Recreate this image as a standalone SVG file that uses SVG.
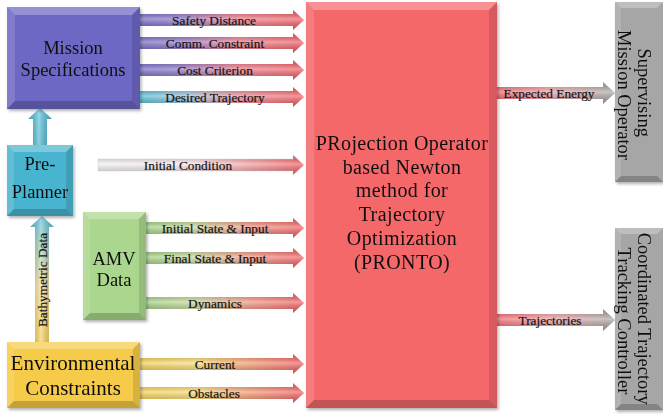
<svg xmlns="http://www.w3.org/2000/svg" width="663" height="417" viewBox="0 0 663 417" font-family="'Liberation Serif', 'DejaVu Serif', serif">
  <defs>
    <style>
      text { font-family: 'Liberation Serif', 'DejaVu Serif', serif; fill: #111; }
      .box { font-size: 18.5px; text-anchor: middle; }
      .env { font-size: 21px; text-anchor: middle; }
      .core { font-size: 20px; text-anchor: middle; letter-spacing: 0.4px; }
      .lbl { font-size: 13.3px; text-anchor: middle; dominant-baseline: central; stroke: #222; stroke-width: 0.2px; }
      .hl { fill: #fff; opacity: 0.28; }
      .hl2 { fill: #fff; opacity: 0.14; }
      .dk { fill: #000; opacity: 0.12; }
      .dk2 { fill: #000; opacity: 0.2; }
      .gloss { fill: url(#gloss); }
    </style>
    <filter id="shadow" x="-10%" y="-10%" width="130%" height="130%">
      <feDropShadow dx="1.5" dy="2" stdDeviation="1.5" flood-color="#000" flood-opacity="0.3"/>
    </filter>
    <!-- horizontal arrow fills: source colour fading into the optimizer red -->
    <linearGradient id="gPurple" x1="0" y1="0" x2="1" y2="0">
      <stop offset="0" stop-color="#6f66c6"/>
      <stop offset="0.25" stop-color="#8e74c6"/>
      <stop offset="0.6" stop-color="#f07a8a"/>
      <stop offset="1" stop-color="#f45a60"/>
    </linearGradient>
    <linearGradient id="gCyan" x1="0" y1="0" x2="1" y2="0">
      <stop offset="0" stop-color="#4bbcd6"/>
      <stop offset="0.3" stop-color="#9fc0d8"/>
      <stop offset="0.6" stop-color="#f08a96"/>
      <stop offset="1" stop-color="#f45a60"/>
    </linearGradient>
    <linearGradient id="gWhite" x1="0" y1="0" x2="1" y2="0">
      <stop offset="0" stop-color="#f4f4f4"/>
      <stop offset="0.45" stop-color="#f8e4e6"/>
      <stop offset="1" stop-color="#f45a60"/>
    </linearGradient>
    <linearGradient id="gGreen" x1="0" y1="0" x2="1" y2="0">
      <stop offset="0" stop-color="#9ccf7c"/>
      <stop offset="0.3" stop-color="#c9d89a"/>
      <stop offset="0.65" stop-color="#f3947e"/>
      <stop offset="1" stop-color="#f45a60"/>
    </linearGradient>
    <linearGradient id="gYellow" x1="0" y1="0" x2="1" y2="0">
      <stop offset="0" stop-color="#f6cf4c"/>
      <stop offset="0.35" stop-color="#f8dc74"/>
      <stop offset="0.65" stop-color="#f59a6e"/>
      <stop offset="1" stop-color="#f45a60"/>
    </linearGradient>
    <linearGradient id="gOut" x1="0" y1="0" x2="1" y2="0">
      <stop offset="0" stop-color="#f25f66"/>
      <stop offset="0.45" stop-color="#ee9ea2"/>
      <stop offset="1" stop-color="#a8a8a8"/>
    </linearGradient>
    <linearGradient id="gUpCyan" x1="0" y1="1" x2="0" y2="0">
      <stop offset="0" stop-color="#4bb6d0"/>
      <stop offset="1" stop-color="#5ac6de"/>
    </linearGradient>
    <linearGradient id="gUpBathy" x1="0" y1="1" x2="0" y2="0">
      <stop offset="0" stop-color="#f6cf4c"/>
      <stop offset="0.45" stop-color="#f3e3a0"/>
      <stop offset="1" stop-color="#5cc3dc"/>
    </linearGradient>
    <!-- tubular shading laid over every arrow -->
    <linearGradient id="gloss" x1="0" y1="0" x2="0" y2="1">
      <stop offset="0" stop-color="#000" stop-opacity="0.12"/>
      <stop offset="0.45" stop-color="#fff" stop-opacity="0.35"/>
      <stop offset="1" stop-color="#000" stop-opacity="0.18"/>
    </linearGradient>
    <linearGradient id="glossV" x1="0" y1="0" x2="1" y2="0">
      <stop offset="0" stop-color="#000" stop-opacity="0.12"/>
      <stop offset="0.45" stop-color="#fff" stop-opacity="0.35"/>
      <stop offset="1" stop-color="#000" stop-opacity="0.18"/>
    </linearGradient>
  </defs>

  <rect width="663" height="417" fill="#fff"/>

  <!-- connectors -->
  <g id="connectors">
    <!-- Mission Specifications -> PRONTO -->
    <path fill="url(#gPurple)" d="M140 14 L293 14 L293 10 L304 20 L293 30 L293 26 L140 26 Z"/>
    <path class="gloss" d="M140 14 L293 14 L293 10 L304 20 L293 30 L293 26 L140 26 Z"/>
    <path fill="url(#gPurple)" d="M140 37 L293 37 L293 33 L304 43 L293 53 L293 49 L140 49 Z"/>
    <path class="gloss" d="M140 37 L293 37 L293 33 L304 43 L293 53 L293 49 L140 49 Z"/>
    <path fill="url(#gPurple)" d="M140 64 L293 64 L293 60 L304 70 L293 80 L293 76 L140 76 Z"/>
    <path class="gloss" d="M140 64 L293 64 L293 60 L304 70 L293 80 L293 76 L140 76 Z"/>
    <path fill="url(#gCyan)" d="M140 91 L293 91 L293 87 L304 97 L293 107 L293 103 L140 103 Z"/>
    <path class="gloss" d="M140 91 L293 91 L293 87 L304 97 L293 107 L293 103 L140 103 Z"/>

    <!-- Initial Condition -->
    <path fill="url(#gWhite)" stroke="#ddd" stroke-width="0.6" d="M98 159 L293 159 L293 155 L304 165 L293 175 L293 171 L98 171 Z"/>
    <path class="gloss" d="M98 159 L293 159 L293 155 L304 165 L293 175 L293 171 L98 171 Z"/>

    <!-- AMV Data -> PRONTO -->
    <path fill="url(#gGreen)" d="M146 222 L293 222 L293 218 L304 228 L293 238 L293 234 L146 234 Z"/>
    <path class="gloss" d="M146 222 L293 222 L293 218 L304 228 L293 238 L293 234 L146 234 Z"/>
    <path fill="url(#gGreen)" d="M146 252 L293 252 L293 248 L304 258 L293 268 L293 264 L146 264 Z"/>
    <path class="gloss" d="M146 252 L293 252 L293 248 L304 258 L293 268 L293 264 L146 264 Z"/>
    <path fill="url(#gGreen)" d="M146 297 L293 297 L293 293 L304 303 L293 313 L293 309 L146 309 Z"/>
    <path class="gloss" d="M146 297 L293 297 L293 293 L304 303 L293 313 L293 309 L146 309 Z"/>

    <!-- Environmental Constraints -> PRONTO -->
    <path fill="url(#gYellow)" d="M140 358 L293 358 L293 354 L304 364 L293 374 L293 370 L140 370 Z"/>
    <path class="gloss" d="M140 358 L293 358 L293 354 L304 364 L293 374 L293 370 L140 370 Z"/>
    <path fill="url(#gYellow)" d="M140 387 L293 387 L293 383 L304 393 L293 403 L293 399 L140 399 Z"/>
    <path class="gloss" d="M140 387 L293 387 L293 383 L304 393 L293 403 L293 399 L140 399 Z"/>

    <!-- PRONTO outputs -->
    <path fill="url(#gOut)" d="M497 87 L603 87 L603 82 L615 93 L603 104 L603 99 L497 99 Z"/>
    <path class="gloss" d="M497 87 L603 87 L603 82 L615 93 L603 104 L603 99 L497 99 Z"/>
    <path fill="url(#gOut)" d="M497 314 L603 314 L603 309 L615 320 L603 331 L603 326 L497 326 Z"/>
    <path class="gloss" d="M497 314 L603 314 L603 309 L615 320 L603 331 L603 326 L497 326 Z"/>

    <!-- Pre-Planner -> Mission Specifications -->
    <path fill="url(#gUpCyan)" d="M33 145 L33 119 L28 119 L40 108 L52 119 L47 119 L47 145 Z"/>
    <path fill="url(#glossV)" d="M33 145 L33 119 L28 119 L40 108 L52 119 L47 119 L47 145 Z"/>

    <!-- Environmental Constraints -> Pre-Planner (bathymetric data) -->
    <path fill="url(#gUpBathy)" d="M35 342 L35 227 L30 227 L42 216 L54 227 L49 227 L49 342 Z"/>
    <path fill="url(#glossV)" d="M35 342 L35 227 L30 227 L42 216 L54 227 L49 227 L49 342 Z"/>

    <!-- connector labels -->
    <text class="lbl" x="214" y="20">Safety Distance</text>
    <text class="lbl" x="215" y="43">Comm. Constraint</text>
    <text class="lbl" x="215" y="70">Cost Criterion</text>
    <text class="lbl" x="215" y="97">Desired Trajectory</text>
    <text class="lbl" x="188" y="165">Initial Condition</text>
    <text class="lbl" x="215" y="228">Initial State &amp; Input</text>
    <text class="lbl" x="215" y="258">Final State &amp; Input</text>
    <text class="lbl" x="215" y="303">Dynamics</text>
    <text class="lbl" x="215" y="364">Current</text>
    <text class="lbl" x="214" y="393">Obstacles</text>
    <text class="lbl" x="549" y="93">Expected Energy</text>
    <text class="lbl" x="550" y="320">Trajectories</text>
    <text class="lbl" transform="translate(42,280) rotate(-90)">Bathymetric Data</text>
  </g>

  <!-- Mission Specifications -->
  <g id="mission-specifications" filter="url(#shadow)">
    <rect x="7" y="7" width="133" height="102" fill="#6d67c4"/>
    <polygon class="hl" points="7,7 140,7 132,15 15,15"/>
    <polygon class="hl2" points="7,7 15,15 15,101 7,109"/>
    <polygon class="dk2" points="7,109 15,101 132,101 140,109"/>
    <polygon class="dk" points="140,7 140,109 132,101 132,15"/>
    <text class="box" x="73" y="54">Mission</text>
    <text class="box" x="73" y="76">Specifications</text>
  </g>

  <!-- Pre-Planner -->
  <g id="pre-planner" filter="url(#shadow)">
    <rect x="7" y="145" width="66" height="71" fill="#4ab4cf"/>
    <polygon class="hl" points="7,145 73,145 66,152 14,152"/>
    <polygon class="hl2" points="7,145 14,152 14,209 7,216"/>
    <polygon class="dk2" points="7,216 14,209 66,209 73,216"/>
    <polygon class="dk" points="73,145 73,216 66,209 66,152"/>
    <text class="box" x="40" y="170">Pre-</text>
    <text class="box" x="40" y="198">Planner</text>
  </g>

  <!-- AMV Data -->
  <g id="amv-data" filter="url(#shadow)">
    <rect x="83" y="212" width="63" height="108" fill="#abd68d"/>
    <polygon class="hl" points="83,212 146,212 139,219 90,219"/>
    <polygon class="hl2" points="83,212 90,219 90,313 83,320"/>
    <polygon class="dk2" points="83,320 90,313 139,313 146,320"/>
    <polygon class="dk" points="146,212 146,320 139,313 139,219"/>
    <text class="box" x="114" y="265">AMV</text>
    <text class="box" x="114" y="286">Data</text>
  </g>

  <!-- Environmental Constraints -->
  <g id="environmental-constraints" filter="url(#shadow)">
    <rect x="7" y="342" width="133" height="66" fill="#f6cb48"/>
    <polygon class="hl" points="7,342 140,342 133,349 14,349"/>
    <polygon class="hl2" points="7,342 14,349 14,401 7,408"/>
    <polygon class="dk2" points="7,408 14,401 133,401 140,408"/>
    <polygon class="dk" points="140,342 140,408 133,401 133,349"/>
    <text class="env" x="73" y="370">Environmental</text>
    <text class="env" x="73" y="395">Constraints</text>
  </g>

  <!-- PRONTO optimizer -->
  <g id="pronto" filter="url(#shadow)">
    <rect x="306" y="2" width="191" height="406" fill="#f4676b"/>
    <polygon class="hl" points="306,2 497,2 489,10 314,10"/>
    <polygon class="hl2" points="306,2 314,10 314,400 306,408"/>
    <polygon class="dk2" points="306,408 314,400 489,400 497,408"/>
    <polygon class="dk" points="497,2 497,408 489,400 489,10"/>
    <text class="core" x="402" y="150">PRojection Operator</text>
    <text class="core" x="402" y="174">based Newton</text>
    <text class="core" x="402" y="197">method for</text>
    <text class="core" x="402" y="221">Trajectory</text>
    <text class="core" x="402" y="245">Optimization</text>
    <text class="core" x="402" y="269">(PRONTO)</text>
  </g>

  <!-- Supervising Mission Operator -->
  <g id="supervising-operator" filter="url(#shadow)">
    <rect x="615" y="2" width="48" height="180" fill="#a6a6a6"/>
    <polygon class="hl" points="615,2 663,2 657,8 621,8"/>
    <polygon class="hl2" points="615,2 621,8 621,176 615,182"/>
    <polygon class="dk2" points="615,182 621,176 657,176 663,182"/>
    <text class="box" transform="translate(638,95) rotate(90)">
      <tspan x="0" y="0">Supervising</tspan>
      <tspan x="0" y="20">Mission Operator</tspan>
    </text>
  </g>

  <!-- Coordinated Trajectory Tracking Controller -->
  <g id="tracking-controller" filter="url(#shadow)">
    <rect x="615" y="228" width="48" height="182" fill="#a6a6a6"/>
    <polygon class="hl" points="615,228 663,228 657,234 621,234"/>
    <polygon class="hl2" points="615,228 621,234 621,404 615,410"/>
    <polygon class="dk2" points="615,410 621,404 657,404 663,410"/>
    <text class="box" transform="translate(638,321) rotate(90)">
      <tspan x="0" y="0">Coordinated Trajectory</tspan>
      <tspan x="0" y="20">Tracking Controller</tspan>
    </text>
  </g>
</svg>
